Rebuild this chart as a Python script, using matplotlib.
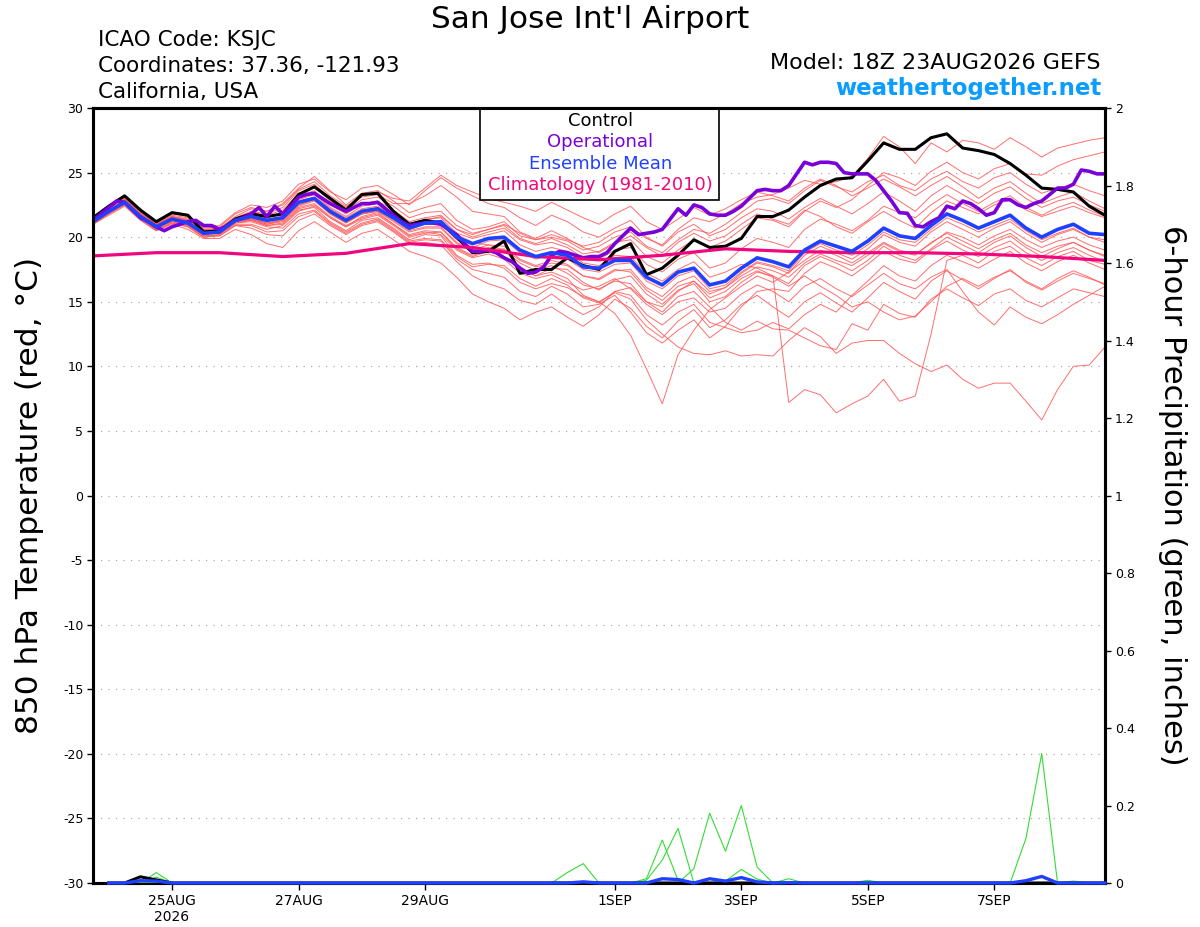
""" GEFS 850 hPa temperature / 6-hour precip plume for KSJC """

import numpy as np
import matplotlib
matplotlib.use("Agg")
from matplotlib import pyplot as plt
from matplotlib.patches import Rectangle

plt.rcParams['font.family'] = ['DejaVu Sans']
plt.rcParams['axes.unicode_minus'] = False

# ---- data ----
step_6h = 6
step_3h = 3

# control run, 6-hourly (65 points)
control_t = [21.5, 22.4, 23.2, 22.1, 21.2, 21.9, 21.7, 20.4, 20.5, 21.4,
             21.8, 21.6, 21.8, 23.3, 23.9, 23.0, 22.1, 23.3, 23.4, 22.0,
             21.0, 21.3, 21.1, 20.0, 18.8, 18.9, 19.7, 17.2, 17.5, 17.5,
             18.4, 17.8, 17.5, 18.9, 19.5, 17.1, 17.6, 18.6, 19.8, 19.2,
             19.3, 19.9, 21.6, 21.6, 22.1, 23.1, 24.0, 24.5, 24.6, 25.9,
             27.3, 26.8, 26.8, 27.7, 28.0, 26.9, 26.7, 26.4, 25.7, 24.8,
             23.8, 23.7, 23.5, 22.4, 21.7]

# ensemble mean, 6-hourly
mean_t = [21.2, 22.0, 22.7, 21.6, 20.8, 21.4, 21.1, 20.3, 20.4, 21.3,
          21.6, 21.3, 21.5, 22.7, 23.0, 22.0, 21.3, 22.0, 22.2, 21.5,
          20.7, 21.1, 21.2, 20.0, 19.5, 19.9, 20.0, 19.0, 18.5, 18.8,
          18.6, 17.7, 17.6, 18.2, 18.2, 16.9, 16.3, 17.3, 17.6, 16.3,
          16.6, 17.6, 18.4, 18.1, 17.7, 19.0, 19.7, 19.3, 18.9, 19.7,
          20.7, 20.1, 19.9, 20.9, 21.8, 21.3, 20.7, 21.2, 21.7, 20.7,
          20.0, 20.6, 21.0, 20.3, 20.2]

# operational run, 3-hourly (129 points)
oper_t = [21.3, 21.8, 22.3, 22.8, 22.7, 22.1, 21.5, 21.2, 20.8, 20.5,
          20.8, 21.0, 21.2, 21.3, 20.9, 20.9, 20.6, 20.9, 21.3, 21.5,
          21.8, 22.3, 21.6, 22.4, 21.8, 22.4, 23.1, 23.3, 23.4, 23.0,
          22.6, 22.3, 22.0, 22.3, 22.6, 22.6, 22.7, 22.2, 21.7, 21.2,
          20.9, 21.0, 21.1, 21.1, 21.0, 20.6, 20.2, 19.5, 18.9, 18.9,
          19.0, 18.8, 18.4, 18.1, 17.6, 17.2, 17.3, 17.7, 18.6, 18.9,
          18.8, 18.6, 18.4, 18.5, 18.5, 18.8, 19.5, 20.1, 20.7, 20.2,
          20.3, 20.4, 20.6, 21.4, 22.2, 21.7, 22.5, 22.3, 21.8, 21.7,
          21.7, 22.0, 22.4, 23.0, 23.6, 23.7, 23.6, 23.6, 24.0, 24.9,
          25.8, 25.6, 25.8, 25.8, 25.7, 25.0, 24.9, 24.9, 24.9, 24.4,
          23.6, 22.8, 21.9, 21.85, 20.9, 20.8, 21.2, 21.5, 22.4, 22.2,
          22.8, 22.6, 22.2, 21.7, 21.9, 22.9, 22.9, 22.5, 22.3, 22.6,
          22.8, 23.3, 23.8, 23.8, 24.1, 25.2, 25.1, 24.9, 24.9]

# climatology, daily points
clim_step = 24
clim_t = [18.55, 18.8, 18.8, 18.5, 18.75, 19.5, 19.2, 18.5, 18.25,
          18.6, 19.1, 18.9, 18.8, 18.8, 18.7, 18.5, 18.2]

# ensemble members, 6-hourly
members_t = [
    [21.4, 22.3, 23.0, 21.8, 21.0, 21.6, 21.4, 20.6, 20.7, 21.6,
     22.2, 22.0, 22.6, 23.8, 24.7, 23.6, 22.5, 23.4, 23.6, 22.8,
     21.9, 22.3, 22.6, 21.3, 20.6, 20.8, 21.2, 20.1, 19.8, 20.2,
     19.8, 19.3, 19.6, 20.4, 20.8, 19.9, 19.4, 20.6, 21.5, 21.2,
     21.8, 22.6, 23.1, 23.3, 23.8, 24.4, 24.1, 24.3, 24.7, 26.1,
     27.8, 27.0, 25.7, 27.3, 26.6, 27.5, 27.3, 26.8, 27.7, 27.0,
     26.2, 26.9, 27.2, 27.5, 27.7],
    [21.0, 21.8, 22.5, 21.4, 20.5, 21.1, 20.8, 20.0, 20.2, 21.0,
     21.0, 20.6, 20.9, 22.0, 22.4, 21.5, 20.8, 21.6, 21.9, 21.0,
     20.2, 20.5, 20.4, 19.2, 18.6, 18.9, 18.5, 17.6, 17.0, 17.3,
     16.8, 15.5, 15.0, 14.1, 12.4, 9.8, 7.1, 10.9, 12.8, 14.4,
     15.3, 16.2, 17.0, 16.5, 17.3, 18.2, 19.0, 18.6, 18.0, 18.8,
     19.6, 19.0, 18.7, 19.5, 20.4, 20.0, 19.4, 20.1, 20.6, 19.8,
     19.2, 19.7, 20.0, 19.4, 19.0],
    [21.3, 22.1, 22.8, 21.7, 20.9, 21.5, 21.2, 20.4, 20.5, 21.4,
     21.8, 21.5, 21.9, 23.0, 23.4, 22.3, 21.6, 22.4, 22.6, 21.9,
     21.0, 21.4, 21.5, 20.3, 19.9, 20.2, 20.5, 19.4, 18.9, 19.2,
     18.9, 18.0, 17.8, 18.6, 18.5, 17.2, 16.6, 17.5, 18.1, 16.9,
     17.3, 17.9, 17.6, 17.0, 7.2, 8.2, 7.8, 6.4, 7.1, 7.7,
     9.0, 7.3, 7.7, 12.5, 18.2, 18.6, 18.0, 18.9, 19.3, 18.4,
     17.8, 18.5, 18.9, 18.2, 17.9],
    [21.1, 21.9, 22.6, 21.5, 20.7, 21.2, 20.9, 20.1, 20.2, 21.1,
     21.3, 20.9, 21.0, 22.1, 22.3, 21.2, 20.5, 21.3, 21.5, 20.7,
     19.8, 20.2, 20.1, 18.6, 17.9, 18.0, 17.6, 16.5, 16.0, 16.4,
     16.1, 15.4, 15.0, 15.7, 15.2, 13.6, 12.5, 11.5, 11.0, 10.9,
     11.2, 10.8, 10.9, 10.8, 12.0, 13.0, 12.3, 11.0, 11.8, 12.0,
     12.0, 11.0, 10.2, 9.6, 10.1, 9.0, 8.3, 8.7, 8.7, 7.3,
     5.85, 8.2, 10.0, 10.1, 11.5],
    [21.2, 22.0, 22.7, 21.5, 20.8, 21.3, 21.0, 20.2, 20.3, 21.2,
     21.4, 21.0, 21.2, 22.3, 22.6, 21.6, 20.9, 21.5, 21.8, 21.0,
     20.1, 20.4, 20.2, 19.0, 18.4, 18.7, 18.3, 17.2, 16.8, 17.1,
     16.5, 15.9, 16.2, 16.8, 16.0, 14.8, 14.0, 15.0, 15.3, 14.2,
     14.5, 15.6, 16.3, 15.8, 15.0, 16.2, 16.8, 16.0, 15.4, 16.3,
     17.2, 16.4, 16.0, 16.9, 17.5, 15.8, 14.2, 13.2, 14.6, 13.8,
     13.3, 14.0, 14.8, 15.5, 16.2],
    [21.0, 21.7, 22.4, 21.3, 20.5, 21.0, 20.6, 19.9, 19.9, 20.6,
     20.2, 19.5, 19.2, 20.5, 21.2, 20.4, 19.6, 20.3, 20.6, 19.8,
     18.9, 18.5, 18.0, 16.9, 15.6, 15.0, 14.5, 13.6, 14.2, 14.6,
     13.8, 13.1, 14.0, 15.2, 14.5, 13.1, 12.2, 13.5, 14.4, 13.0,
     13.6, 14.8, 15.5, 14.6, 13.8, 15.0, 15.7, 14.9, 14.2, 15.3,
     16.5, 15.8, 15.2, 16.6, 17.4, 16.7, 16.0, 16.8, 17.5, 16.5,
     15.9, 16.6, 17.2, 16.8, 16.4],
    [21.5, 22.4, 23.1, 22.0, 21.1, 21.8, 21.6, 20.8, 20.9, 21.9,
     22.5, 22.3, 22.8, 24.1, 24.5, 23.5, 22.9, 23.8, 24.0, 23.3,
     22.5, 23.6, 24.6, 23.8, 23.2, 22.6, 22.3, 21.5, 20.9, 21.7,
     21.2, 20.4, 20.0, 20.7, 21.3, 20.0, 19.3, 20.4, 21.0, 20.1,
     20.6, 21.5, 22.2, 22.0, 21.4, 22.3, 23.0, 22.4, 21.8, 22.6,
     23.5, 22.8, 22.0, 23.2, 24.0, 23.3, 22.6, 23.4, 23.9, 23.0,
     22.3, 22.8, 23.1, 22.5, 22.0],
    [21.3, 22.2, 22.9, 21.9, 21.0, 21.6, 21.3, 20.5, 20.6, 21.5,
     21.9, 21.7, 22.1, 23.4, 23.9, 22.8, 22.1, 22.9, 23.1, 22.4,
     21.5, 21.9, 22.0, 20.9, 20.3, 20.6, 20.9, 19.9, 19.5, 19.9,
     19.4, 18.7, 18.9, 19.6, 19.8, 18.5, 18.0, 19.0, 19.8, 19.2,
     19.7, 20.6, 21.5, 21.3, 20.8, 22.0, 22.8, 22.3, 22.9, 24.0,
     25.0, 24.6, 24.0, 25.1, 25.8, 25.0, 24.5, 25.3, 25.7, 24.9,
     24.8, 25.5, 26.0, 26.3, 26.6],
    [21.2, 22.0, 22.8, 21.6, 20.9, 21.5, 21.2, 20.4, 20.3, 21.3,
     21.5, 21.1, 21.4, 22.5, 22.9, 21.9, 21.2, 21.8, 22.1, 21.4,
     20.6, 21.0, 21.0, 19.8, 19.2, 19.7, 19.8, 18.8, 18.3, 18.6,
     18.3, 17.5, 17.3, 17.9, 18.0, 16.6, 16.0, 17.0, 17.4, 16.0,
     16.3, 17.3, 18.1, 17.8, 17.4, 18.8, 19.5, 19.0, 18.6, 19.4,
     20.4, 19.8, 19.6, 20.6, 21.5, 21.0, 20.4, 20.9, 21.4, 20.5,
     19.8, 20.3, 20.7, 20.0, 19.8],
    [21.1, 21.9, 22.6, 21.6, 20.7, 21.3, 21.0, 20.2, 20.4, 21.2,
     21.4, 21.0, 21.3, 22.4, 22.8, 21.8, 21.1, 21.8, 22.0, 21.2,
     20.4, 20.7, 20.7, 19.5, 18.9, 19.2, 19.0, 18.0, 17.4, 17.8,
     17.2, 16.3, 16.0, 16.6, 16.4, 15.0, 14.2, 15.4, 15.8, 14.6,
     13.4, 12.8, 13.5, 12.9, 12.8, 12.2, 11.6, 11.3, 13.3, 12.8,
     14.8, 14.1, 13.8, 15.2, 16.0, 15.3, 14.7, 15.6, 16.0, 15.1,
     14.6, 15.3, 16.0, 15.7, 15.4],
    [21.4, 22.2, 23.0, 21.9, 21.1, 21.7, 21.5, 20.7, 20.8, 21.8,
     22.3, 22.0, 22.5, 23.7, 24.3, 23.2, 22.4, 23.1, 23.3, 22.6,
     22.6, 23.2, 24.0, 23.1, 22.0, 21.8, 21.6, 20.4, 19.9, 20.5,
     19.9, 19.2, 18.8, 19.5, 20.1, 19.2, 18.5, 19.6, 20.3, 19.7,
     20.1, 21.0, 21.8, 21.4, 21.0, 22.1, 21.6, 20.8, 20.3, 21.2,
     22.0, 21.3, 20.7, 21.9, 22.8, 22.3, 21.8, 22.5, 22.9, 22.1,
     21.6, 22.0, 22.4, 21.9, 21.5],
    [21.3, 22.0, 22.6, 21.7, 20.8, 21.4, 21.1, 20.3, 20.5, 21.4,
     21.7, 21.4, 21.6, 22.8, 23.1, 22.1, 21.3, 22.1, 22.3, 21.6,
     20.8, 21.2, 21.3, 20.2, 19.6, 19.4, 19.0, 17.7, 17.0, 17.6,
     17.5, 16.5, 15.9, 16.7, 17.0, 15.6, 14.8, 15.9, 16.4, 15.0,
     15.4, 16.5, 17.3, 17.0, 16.4, 17.8, 18.5, 18.0, 17.4, 18.2,
     19.3, 18.6, 18.2, 19.1, 20.0, 19.4, 18.8, 19.6, 20.1, 19.2,
     18.5, 19.1, 19.6, 19.0, 18.6],
    [21.2, 22.1, 22.8, 21.6, 20.8, 21.4, 21.1, 20.3, 20.4, 21.3,
     21.6, 21.3, 21.6, 22.9, 23.3, 22.2, 21.5, 22.2, 22.4, 21.7,
     20.9, 21.3, 21.6, 20.6, 20.0, 20.4, 20.7, 19.8, 19.4, 19.6,
     19.2, 18.4, 18.3, 19.0, 19.2, 17.9, 17.3, 18.3, 18.8, 17.6,
     18.0, 19.1, 19.9, 19.6, 19.2, 20.6, 21.4, 21.0, 20.5, 21.3,
     22.4, 21.9, 21.5, 22.5, 23.3, 22.6, 22.0, 22.7, 23.2, 22.3,
     21.7, 22.3, 22.7, 22.1, 21.6],
    [21.0, 21.9, 22.6, 21.5, 20.6, 21.2, 20.9, 20.1, 20.1, 20.9,
     20.7, 20.2, 20.1, 21.3, 21.8, 20.9, 20.2, 20.9, 21.2, 20.4,
     19.5, 19.6, 19.4, 18.1, 17.0, 16.4, 16.0, 15.1, 14.8, 15.6,
     14.7, 14.0, 14.6, 15.8, 16.1, 15.0, 14.6, 15.8, 16.6, 15.6,
     16.1, 17.2, 18.0, 17.7, 17.2, 18.6, 19.3, 18.8, 18.3, 19.1,
     20.2, 19.6, 19.3, 20.4, 21.2, 20.6, 20.0, 20.7, 21.2, 20.3,
     19.6, 20.2, 20.6, 20.0, 19.6],
    [21.2, 21.9, 22.6, 21.6, 20.8, 21.3, 21.0, 20.3, 20.3, 21.1,
     21.2, 20.8, 20.7, 21.8, 22.1, 21.1, 20.4, 21.1, 21.4, 20.6,
     19.7, 19.9, 19.8, 18.5, 17.7, 17.9, 17.8, 16.8, 16.2, 16.8,
     16.3, 15.3, 14.9, 15.8, 15.5, 14.0, 13.2, 14.2, 14.8, 13.4,
     13.0, 12.6, 12.8, 13.4, 12.9, 14.0, 14.8, 14.2, 15.5, 16.6,
     17.8, 17.0, 16.6, 17.8, 18.6, 18.1, 17.6, 18.3, 18.9, 18.0,
     17.4, 18.1, 18.6, 18.0, 17.5],
    [21.4, 22.2, 22.9, 21.8, 21.0, 21.5, 21.3, 20.5, 20.6, 21.5,
     21.9, 21.6, 21.9, 23.2, 23.6, 22.5, 21.8, 22.6, 22.8, 22.1,
     21.2, 21.5, 21.7, 20.6, 20.2, 20.6, 21.0, 20.3, 19.8, 20.0,
     19.7, 19.0, 19.3, 20.0, 20.4, 19.3, 18.8, 19.8, 20.6, 20.3,
     21.0, 21.9, 22.8, 23.0, 22.6, 23.6, 24.4, 23.9, 23.5, 24.3,
     24.8, 24.0, 23.6, 24.5, 25.1, 24.3, 23.8, 24.6, 25.0, 24.1,
     23.4, 23.8, 24.1, 23.6, 23.2],
    [21.1, 21.9, 22.6, 21.5, 20.8, 21.4, 21.1, 20.3, 20.4, 21.2,
     21.3, 20.9, 21.1, 22.2, 22.5, 21.5, 20.8, 21.4, 21.7, 20.9,
     20.0, 20.3, 20.4, 19.1, 18.5, 18.9, 19.1, 18.2, 17.7, 18.0,
     17.8, 17.0, 16.7, 17.4, 17.5, 16.1, 15.4, 16.5, 17.0, 15.8,
     16.1, 17.0, 17.7, 17.4, 16.9, 18.0, 18.7, 18.2, 17.8, 18.6,
     19.5, 18.9, 18.6, 19.6, 20.3, 19.7, 19.1, 19.8, 20.3, 19.4,
     18.8, 19.3, 19.6, 19.0, 18.5],
    [21.3, 22.1, 22.8, 21.8, 21.0, 21.6, 21.3, 20.6, 20.6, 21.5,
     22.0, 21.8, 22.3, 23.6, 24.1, 23.0, 22.3, 23.2, 23.5, 23.0,
     22.8, 23.8, 24.8, 24.0, 23.5, 23.0, 22.7, 22.4, 22.0, 22.7,
     22.1, 21.5, 21.0, 21.8, 22.4, 21.2, 20.6, 21.4, 22.3, 21.7,
     22.2, 22.9, 23.5, 23.2, 22.8, 23.8, 24.5, 24.0, 23.2, 23.8,
     24.5, 23.9, 23.2, 24.0, 24.7, 23.9, 23.0, 23.8, 24.3, 23.4,
     22.6, 23.1, 23.5, 22.8, 22.2],
    [21.2, 22.0, 22.7, 21.7, 20.9, 21.4, 21.0, 20.2, 20.4, 21.2,
     21.4, 21.1, 21.3, 22.5, 22.9, 21.8, 21.1, 21.8, 22.0, 21.3,
     20.5, 20.8, 20.8, 19.6, 19.0, 19.4, 19.3, 18.3, 17.8, 18.2,
     17.9, 17.0, 16.8, 17.5, 17.3, 15.9, 15.1, 16.2, 16.6, 15.3,
     15.8, 16.8, 17.4, 16.9, 16.2, 17.0, 16.2, 15.5, 14.6, 15.0,
     14.2, 13.6, 13.9, 15.0, 16.2, 16.8, 16.2, 16.9, 17.4, 16.6,
     16.0, 16.8, 17.4, 16.9, 16.3],
    [21.1, 21.8, 22.5, 21.4, 20.6, 21.1, 20.8, 20.0, 20.1, 20.9,
     20.9, 20.4, 20.5, 21.6, 22.0, 21.0, 20.3, 21.0, 21.3, 20.5,
     19.6, 19.8, 19.7, 18.3, 17.5, 17.2, 16.9, 15.8, 15.4, 16.2,
     15.6, 14.6, 14.8, 15.5, 14.2, 12.6, 11.8, 12.8, 13.6, 12.2,
     13.1, 14.6, 15.8, 16.0, 15.8, 17.2, 18.1, 17.6, 17.0, 17.9,
     18.9, 18.3, 18.0, 19.0, 19.7, 19.0, 18.5, 19.2, 19.7, 18.8,
     18.2, 18.8, 19.2, 18.6, 18.1],
]

# 6-hour precip (inches): (step index, amount); other steps are zero
member_precip_events = [
    [(4, 0.027)],
    [(4, 0.015)],
    [(30, 0.027), (31, 0.05)],
    [(35, 0.011), (36, 0.111), (37, 0.007)],
    [(35, 0.007), (36, 0.059), (37, 0.141)],
    [(38, 0.037), (39, 0.18), (40, 0.082), (41, 0.20), (42, 0.041)],
    [(40, 0.005), (41, 0.035), (42, 0.01)],
    [(44, 0.011)],
    [(49, 0.007)],
    [(59, 0.115), (60, 0.334)],
    [(62, 0.005)],
]
control_precip_events = [(3, 0.016), (4, 0.008)]
mean_precip_events = [(3, 0.006), (4, 0.005), (31, 0.003), (36, 0.011),
                      (37, 0.009), (39, 0.011), (40, 0.005), (41, 0.014),
                      (42, 0.003), (44, 0.001), (59, 0.006), (60, 0.017)]

tick_hours = [30, 78, 126, 198, 246, 294, 342]
tick_labels = ['25AUG\n2026', '27AUG', '29AUG', '1SEP', '3SEP', '5SEP', '7SEP']
temp_ticks = list(range(-30, 31, 5))
precip_ticks = [0, 0.2, 0.4, 0.6, 0.8, 1, 1.2, 1.4, 1.6, 1.8, 2]
precip_labels = ['0', '0.2', '0.4', '0.6', '0.8', '1', '1.2', '1.4', '1.6', '1.8', '2']

# ---- time axes ----
hrs6 = np.arange(len(control_t)) * step_6h
hrs3 = np.arange(len(oper_t)) * step_3h
hrs_clim = np.arange(len(clim_t)) * clim_step
hrs_p = hrs6[1:]


def precip_series(events):
    p = np.zeros(len(hrs6))
    for i, v in events:
        p[i] = v
    return p[1:]


c_red = '#ff5555'
c_green = '#33dd33'
c_black = 'black'
c_purple = '#7a00d9'
c_blue = '#2040ff'
c_pink = '#f0077f'

fig = plt.figure(figsize=(12, 9.27), dpi=100)
ax = fig.add_axes([0.0775, 0.04746, 0.84333, 0.83603])

for m in members_t:
    ax.plot(hrs6, m, color=c_red, lw=0.7, alpha=0.85, zorder=2)
ax.plot(hrs6, control_t, color=c_black, lw=2.2, zorder=4)
ax.plot(hrs3, oper_t, color=c_purple, lw=2.6, zorder=5)
ax.plot(hrs_clim, clim_t, color=c_pink, lw=2.3, zorder=6)
ax.plot(hrs6, mean_t, color=c_blue, lw=2.6, zorder=7)

ax.set_xlim(0, 384)
ax.set_ylim(-30, 30)
ax.set_yticks(temp_ticks)
ax.set_yticklabels([str(t) for t in temp_ticks])
ax.set_xticks(tick_hours)
ax.set_xticklabels(tick_labels)
ax.tick_params(axis='y', direction='out', length=4, width=1, labelsize=9, pad=3)
ax.tick_params(axis='x', direction='out', length=5, width=1, labelsize=10, pad=3)
for y in temp_ticks[1:-1]:
    ax.axhline(y, color='#aaaaaa', lw=0.9, linestyle=(0, (1, 5)), zorder=1)

# precip on the right axis
ax2 = ax.twinx()
for ev in member_precip_events:
    ax2.plot(hrs_p, precip_series(ev), color=c_green, lw=0.8, zorder=3)
ax2.plot(hrs_p, precip_series(control_precip_events), color=c_black, lw=2.2,
         zorder=4, clip_on=False)
ax2.plot(hrs_p, precip_series(mean_precip_events), color=c_blue, lw=2.4,
         zorder=5, clip_on=False)
ax2.set_ylim(0, 2)
ax2.set_yticks(precip_ticks)
ax2.set_yticklabels(precip_labels)
ax2.tick_params(axis='y', direction='out', length=4, width=1, labelsize=9, pad=3)

for a in (ax, ax2):
    for s in a.spines.values():
        s.set_linewidth(2.2)

# axis titles
fig.text(30 / 1200, 1 - 495 / 927, '850 hPa Temperature (red, °C)',
         fontsize=22.5, rotation=90, ha='center', va='center')
fig.text(1173 / 1200, 1 - 495 / 927, '6-hour Precipitation (green, inches)',
         fontsize=22, rotation=-90, ha='center', va='center')

# legend box
ax.add_patch(Rectangle((0.3824, 0.8813), 0.2362, 0.1187, transform=ax.transAxes,
                       facecolor='white', edgecolor='black', lw=1.2, zorder=8))
leg_items = [('Control', c_black), ('Operational', c_purple),
             ('Ensemble Mean', c_blue), ('Climatology (1981-2010)', c_pink)]
for k, (txt, col) in enumerate(leg_items):
    ax.text(0.5015, 0.9832 - k * 0.0276, txt, color=col, fontsize=13,
            ha='center', va='center', transform=ax.transAxes, zorder=9)

# header text
fig.text(0.4917, 0.979, "San Jose Int'l Airport", fontsize=22.5,
         ha='center', va='center')
fig.text(0.0815, 0.9569, 'ICAO Code: KSJC', fontsize=15.5, va='center')
fig.text(0.0815, 0.9288, 'Coordinates: 37.36, -121.93', fontsize=15.5, va='center')
fig.text(0.0815, 0.9008, 'California, USA', fontsize=15.5, va='center')
fig.text(0.9175, 0.932, 'Model: 18Z 23AUG2026 GEFS', fontsize=16,
         ha='right', va='center')
fig.text(0.9175, 0.904, 'weathertogether.net', fontsize=16.5, fontweight='bold',
         color='#0a9cff', ha='right', va='center')

fig.savefig('out.png', dpi=100)
